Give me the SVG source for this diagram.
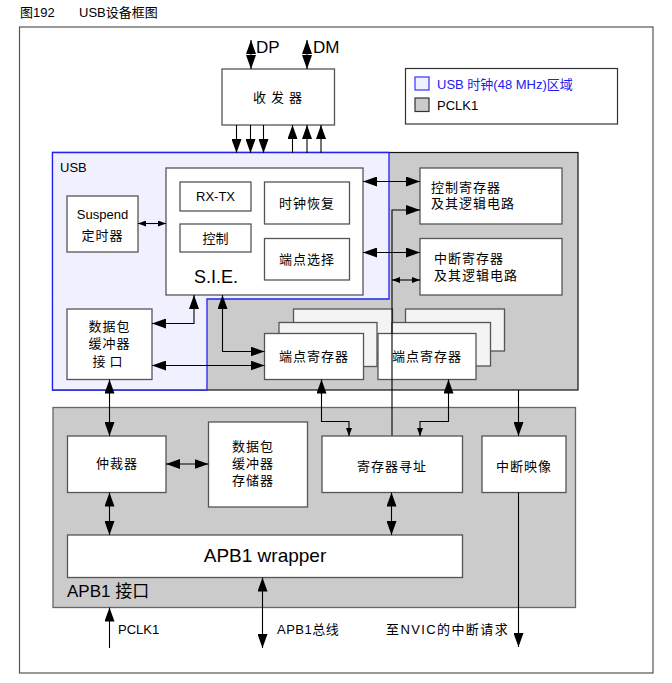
<svg xmlns="http://www.w3.org/2000/svg" width="672" height="683" viewBox="0 0 672 683">
<defs>
<marker id="big" viewBox="0 0 14 10" refX="14" refY="5" markerWidth="14" markerHeight="10" markerUnits="userSpaceOnUse" orient="auto-start-reverse"><path d="M0,0 L14,5 L0,10 z" fill="#000"/></marker>
<marker id="small" viewBox="0 0 8 6" refX="8" refY="3" markerWidth="8" markerHeight="6" markerUnits="userSpaceOnUse" orient="auto-start-reverse"><path d="M0,0 L8,3 L0,6 z" fill="#000"/></marker>
</defs>
<style>
text{font-family:"Liberation Sans","Noto Sans CJK SC",sans-serif;fill:#000;}
.box{fill:#fff;stroke:#555;stroke-width:1.3;}
.back{fill:#f4f4f4;stroke:#555;stroke-width:1.3;}
.t{font-size:13px;}
.c{text-anchor:middle;}
.ln{fill:none;stroke:#000;stroke-width:1.1;}
.ab{marker-end:url(#big);}
.abb{marker-start:url(#big);marker-end:url(#big);}
.as{marker-end:url(#small);}
.ass{marker-start:url(#small);marker-end:url(#small);}
</style>
<rect width="672" height="683" fill="#fff"/>
<text x="20" y="17" font-size="13">图192</text>
<text x="79" y="17" font-size="13">USB设备框图</text>
<rect x="19.5" y="27" width="633.5" height="646" fill="#fff" stroke="#555" stroke-width="1.2"/>

<g id="regions">
<rect x="52.5" y="152.5" width="525.5" height="237.5" fill="#cbcbcb" stroke="#111" stroke-width="1.2"/>
<path d="M52.5,152.5 H389 V299 H207 V390 H52.5 Z" fill="#f0f0ff" stroke="#2222ee" stroke-width="1.3"/>
<text x="60" y="172" class="t">USB</text>
<rect x="53" y="407.5" width="522.5" height="200" fill="#cbcbcb" stroke="#666" stroke-width="1.3"/>
<text x="67" y="597" font-size="17">APB1 接口</text>
</g>

<g id="legend">
<rect x="405.5" y="68.5" width="212" height="55.5" fill="#fff" stroke="#333" stroke-width="1.2"/>
<rect x="415" y="77" width="14" height="13" fill="#f0f0ff" stroke="#3333ff" stroke-width="1.2"/>
<text x="437" y="89" class="t" style="fill:#2020ee">USB 时钟(48 MHz)区域</text>
<rect x="415" y="98" width="14" height="13.5" fill="#cbcbcb" stroke="#333" stroke-width="1.2"/>
<text x="437" y="110" class="t">PCLK1</text>
</g>

<g id="transceiver">
<rect x="222" y="69" width="112.5" height="56" class="box"/>
<text x="280" y="102" class="t c" letter-spacing="5">收发器</text>
</g>
<g id="dpdm">
<text x="256" y="53" font-size="17">DP</text>
<text x="313" y="53" font-size="17">DM</text>
</g>

<g id="suspend">
<rect x="67" y="196" width="71" height="56" class="box"/>
<text x="102.5" y="219" class="t c">Suspend</text>
<text x="102.5" y="240" class="t c" letter-spacing="1">定时器</text>
</g>

<g id="sie">
<rect x="166" y="168" width="197" height="127" class="box"/>
<text x="216" y="283" font-size="18" class="c">S.I.E.</text>
</g>
<g id="rxtx"><rect x="180" y="182" width="71" height="29" class="box"/><text x="215.5" y="201" class="t c">RX-TX</text></g>
<g id="ctrl"><rect x="180" y="224" width="71" height="28" class="box"/><text x="215.5" y="243" class="t c">控制</text></g>
<g id="clkrec"><rect x="264.5" y="182" width="85" height="42" class="box"/><text x="307" y="208" class="t c" letter-spacing="1">时钟恢复</text></g>
<g id="epsel"><rect x="264.5" y="238.5" width="85" height="41.5" class="box"/><text x="307" y="264" class="t c" letter-spacing="1">端点选择</text></g>

<g id="bufif">
<rect x="67" y="309" width="85" height="70.5" class="box"/>
<text x="109.5" y="330.5" class="t c" letter-spacing="1">数据包</text>
<text x="109.5" y="348" class="t c" letter-spacing="1">缓冲器</text>
<text x="109.5" y="365.5" class="t c" letter-spacing="4">接口</text>
</g>

<g id="ctrlreg">
<rect x="420" y="168" width="142" height="56" class="box"/>
<text x="431" y="192" class="t" letter-spacing="1">控制寄存器</text>
<text x="431" y="208" class="t" letter-spacing="1">及其逻辑电路</text>
</g>
<g id="intreg">
<rect x="420" y="238.5" width="142" height="56.5" class="box"/>
<text x="434" y="263" class="t" letter-spacing="1">中断寄存器</text>
<text x="434" y="280" class="t" letter-spacing="1">及其逻辑电路</text>
</g>

<g id="epreg1">
<rect x="293.5" y="309" width="99" height="44" class="back"/>
<rect x="279" y="322.5" width="98" height="44" class="back"/>
<rect x="264.5" y="333.5" width="99" height="46" class="box"/>
<text x="314" y="361" class="t c" letter-spacing="1">端点寄存器</text>
</g>
<g id="epreg2">
<rect x="405.5" y="309" width="99" height="42" class="back"/>
<rect x="392" y="322.5" width="98.5" height="43.5" class="back"/>
<rect x="378" y="333.5" width="98" height="46" class="box"/>
<text x="427" y="361" class="t c" letter-spacing="1">端点寄存器</text>
</g>

<g id="arbiter"><rect x="67.5" y="436" width="98.5" height="56.5" class="box"/><text x="117" y="468" class="t c" letter-spacing="1">仲裁器</text></g>
<g id="bufmem">
<rect x="208.5" y="422" width="99" height="85" class="box"/>
<text x="253" y="451" class="t c" letter-spacing="1">数据包</text>
<text x="253" y="468" class="t c" letter-spacing="1">缓冲器</text>
<text x="253" y="485" class="t c" letter-spacing="1">存储器</text>
</g>
<g id="regaddr"><rect x="322" y="436" width="140.5" height="56.5" class="box"/><text x="392" y="471" class="t c" letter-spacing="1">寄存器寻址</text></g>
<g id="intmap"><rect x="482" y="436" width="84" height="56.5" class="box"/><text x="524" y="471" class="t c" letter-spacing="1">中断映像</text></g>
<g id="wrapper"><rect x="67.5" y="535" width="395" height="42.5" class="box"/><text x="265" y="562" font-size="19" class="c">APB1 wrapper</text></g>

<g id="ext-labels">
<text x="118" y="634" class="t">PCLK1</text>
<text x="277" y="634" class="t" letter-spacing="0.5">APB1总线</text>
<text x="386" y="634" class="t" letter-spacing="1.4">至NVIC的中断请求</text>
</g>

<g id="connectors">
<line x1="251" y1="69" x2="251" y2="40" class="ln abb"/>
<line x1="307" y1="69" x2="307" y2="40" class="ln abb"/>
<line x1="236.5" y1="125" x2="236.5" y2="153" class="ln ab"/>
<line x1="250.5" y1="125" x2="250.5" y2="153" class="ln ab"/>
<line x1="263.5" y1="125" x2="263.5" y2="153" class="ln ab"/>
<line x1="292.5" y1="153" x2="292.5" y2="125" class="ln ab"/>
<line x1="307" y1="153" x2="307" y2="125" class="ln ab"/>
<line x1="321" y1="153" x2="321" y2="125" class="ln ab"/>
<line x1="138" y1="223.5" x2="166" y2="223.5" class="ln ass"/>
<line x1="363" y1="181.5" x2="420" y2="181.5" class="ln abb"/>
<line x1="363" y1="252.5" x2="420" y2="252.5" class="ln abb"/>
<polyline points="392,435.5 392,210 420,210" class="ln ab"/>
<line x1="392" y1="280" x2="420" y2="280" class="ln ass"/>
<polyline points="152,323.5 194,323.5 194,295" class="ln abb"/>
<polyline points="222.5,295 222.5,351.5 264.5,351.5" class="ln abb"/>
<line x1="152" y1="365.5" x2="264.5" y2="365.5" class="ln abb"/>
<line x1="109.5" y1="379.5" x2="109.5" y2="436" class="ln abb"/>
<line x1="166" y1="464" x2="208.5" y2="464" class="ln abb"/>
<line x1="109.5" y1="492.5" x2="109.5" y2="535" class="ln abb"/>
<line x1="391.5" y1="492.5" x2="391.5" y2="535" class="ln abb"/>
<polyline points="321.5,379.5 321.5,421.5 349,421.5 349,436" class="ln as"/>
<line x1="321.5" y1="395" x2="321.5" y2="379.5" class="ln ab"/>
<polyline points="448.5,379.5 448.5,421.5 420,421.5 420,436" class="ln as"/>
<line x1="448.5" y1="395" x2="448.5" y2="379.5" class="ln ab"/>
<line x1="518.5" y1="390" x2="518.5" y2="436" class="ln ab"/>
<line x1="518.5" y1="492.5" x2="518.5" y2="647" class="ln ab"/>
<line x1="109.5" y1="648" x2="109.5" y2="607.5" class="ln ab"/>
<line x1="262.5" y1="577.5" x2="262.5" y2="648" class="ln abb"/>
</g>
</svg>
